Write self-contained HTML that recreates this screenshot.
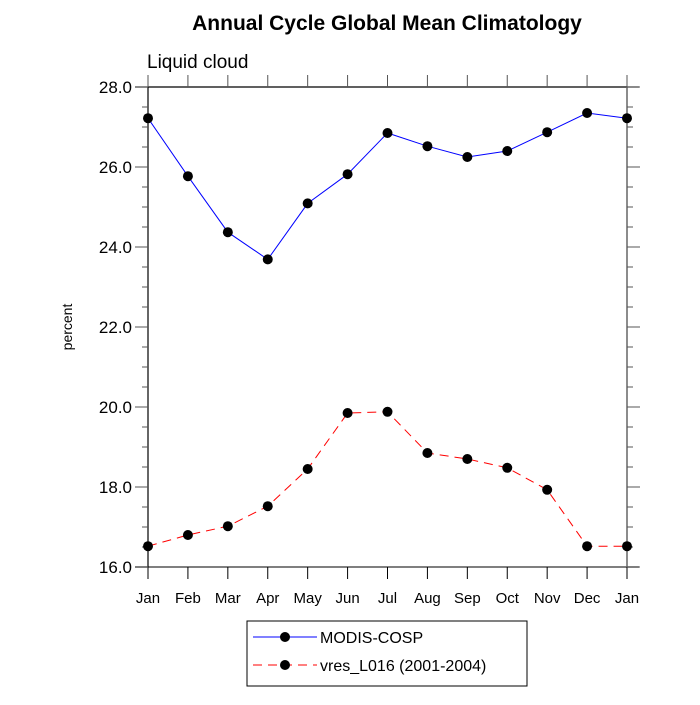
<!DOCTYPE html>
<html><head><meta charset="utf-8"><style>
body{margin:0;background:#fff;font-family:"Liberation Sans",sans-serif;}
</style></head><body>
<svg width="700" height="700" xmlns="http://www.w3.org/2000/svg" font-family="Liberation Sans, sans-serif">
<text x="387" y="30" text-anchor="middle" font-size="21" font-weight="bold">Annual Cycle Global Mean Climatology</text>
<text x="147" y="68" font-size="19">Liquid cloud</text>
<text transform="translate(72,327) rotate(-90)" text-anchor="middle" font-size="14">percent</text>
<g id="axes"></g>
<g id="series"></g>
<g>
<rect x="247" y="621" width="280" height="65" fill="#fff" stroke="#000" stroke-width="1"/>
<line x1="253" y1="637" x2="317" y2="637" stroke="#00f" stroke-width="1"/>
<circle cx="285" cy="637" r="5" fill="#000"/>
<text x="320" y="643" font-size="16">MODIS-COSP</text>
<line x1="253" y1="665" x2="317" y2="665" stroke="#f00" stroke-width="1" stroke-dasharray="9,6"/>
<circle cx="285" cy="665" r="5" fill="#000"/>
<text x="320" y="671" font-size="16">vres_L016 (2001-2004)</text>
</g>
</svg>
<script>
const months = ["Jan","Feb","Mar","Apr","May","Jun","Jul","Aug","Sep","Oct","Nov","Dec","Jan"];
const modis = [27.22,25.77,24.37,23.69,25.09,25.82,26.85,26.52,26.25,26.40,26.87,27.35,27.22];
const vres = [16.52,16.80,17.02,17.52,18.45,19.85,19.88,18.85,18.70,18.48,17.93,16.52,16.52];
const yTicks = ["16.0","18.0","20.0","22.0","24.0","26.0","28.0"];
const L=148,R=627,T=87,B=567,YMIN=16,YMAX=28;
const xs=i=>L+(R-L)*i/(months.length-1);
const ys=v=>B-(B-T)*(v-YMIN)/(YMAX-YMIN);
const NS="http://www.w3.org/2000/svg";
function mk(tag,attrs,parent){const e=document.createElementNS(NS,tag);for(const k in attrs)e.setAttribute(k,attrs[k]);parent.appendChild(e);return e;}
const ax=document.getElementById('axes');
const axTop=mk('line',{x1:L-13,y1:T,x2:R+12,y2:T,stroke:'#000','stroke-width':1.2},ax);


const axBot=mk('line',{x1:L-13,y1:B,x2:R+12,y2:B,stroke:'#555','stroke-width':1.5},ax);


const axLeft=mk('line',{x1:L,y1:T,x2:L,y2:B,stroke:'#000','stroke-width':1.2},ax);


const axRight=mk('line',{x1:R,y1:T,x2:R,y2:B,stroke:'#666','stroke-width':1.5},ax);


months.forEach((m,i)=>{const x=xs(i);
mk('line',{x1:x,y1:B,x2:x,y2:B+12,stroke:'#000'},ax);
mk('line',{x1:x,y1:T,x2:x,y2:T-12,stroke:'#555'},ax);
const t=mk('text',{x:x,y:B+36,'text-anchor':'middle','font-size':15},ax);t.textContent=m;

});
for(let v=YMIN;v<=YMAX+1e-9;v+=0.5){const y=ys(v);const major=Math.abs(v/2-Math.round(v/2))<1e-6;const len=major?13:6;
mk('line',{x1:L,y1:y,x2:L-len,y2:y,stroke:'#555'},ax);
mk('line',{x1:R,y1:y,x2:R+len,y2:y,stroke:'#555'},ax);}
yTicks.forEach(s=>{const y=ys(parseFloat(s));const t=mk('text',{x:L-16,y:y+6,'text-anchor':'end','font-size':17},ax);t.textContent=s;

});
const sg=document.getElementById('series');
function series(data,color,dash,name){
const p=mk('polyline',{points:data.map((v,i)=>xs(i)+','+ys(v)).join(' '),fill:'none',stroke:color,'stroke-width':1,'stroke-dasharray':dash},sg);


data.forEach((v,i)=>{const c=mk('circle',{cx:xs(i),cy:ys(v),r:5,fill:'#000'},sg);

});}
series(modis,'#00f','none','modis');
series(vres,'#f00','9,6','vres');
</script>
</body></html>
